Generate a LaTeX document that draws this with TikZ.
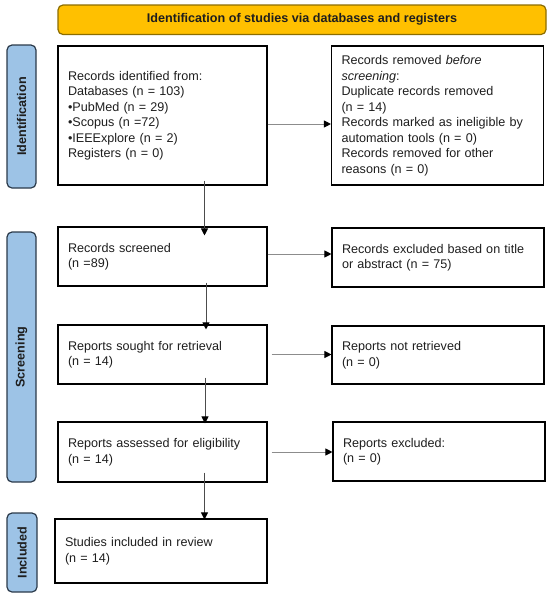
\documentclass[tikz,border=0pt]{standalone}
\usepackage{fontspec}
\setmainfont{Liberation Sans}
\usetikzlibrary{arrows.meta}
\definecolor{titlefill}{HTML}{FFC000}
\definecolor{titledraw}{HTML}{8C6D00}
\definecolor{sidefill}{HTML}{9DC3E6}
\definecolor{sidedraw}{HTML}{2B3A4A}
\definecolor{txt}{HTML}{1E1E1E}
\begin{document}
\begin{tikzpicture}[x=1pt,y=-1pt,
  bodyfont/.style={font=\fontsize{12.6}{15.5}\selectfont},
  box/.style={draw=black, line width=1.1pt, inner xsep=10pt, inner ysep=0pt,
    align=left, text=txt, bodyfont},
  lbox/.style={box, minimum width=209pt, text width=189pt},
  rbox/.style={box, minimum width=212pt, text width=192pt},
  sidebar/.style={draw=sidedraw, fill=sidefill, line width=1.2pt, rounded corners=5pt,
    rotate=90, inner sep=0pt, text=txt, font=\fontsize{12.6}{15}\selectfont\bfseries},
  harr/.style={draw=black!45, line width=1pt, -{Triangle[length=7pt,width=7pt,fill=black,color=black]}},
  varr/.style={draw=black!70, line width=1pt, -{Triangle[length=7pt,width=7pt,fill=black,color=black]}}
]
\useasboundingbox (0,0) rectangle (550,598);

\node[draw=titledraw, fill=titlefill, line width=1.2pt, rounded corners=5pt,
  minimum width=488pt, minimum height=29.5pt, inner sep=0pt, text=txt,
  font=\fontsize{12.6}{15}\selectfont\bfseries] (title) at (302,19.75)
  {Identification of studies via databases and registers};

\node[sidebar, minimum width=143pt, minimum height=29pt] (sid) at (21.5,116.5) {Identification};
\node[sidebar, minimum width=250pt, minimum height=29pt] (sscr) at (21.5,357) {Screening};
\node[sidebar, minimum width=79pt, minimum height=30pt] (sinc) at (22,552.5) {Included};

\node[lbox, minimum height=139pt] (b1) at (162.5,115.5)
  {Records identified from:\\Databases (n = 103)\\•PubMed (n = 29)\\•Scopus (n =72)\\•IEEExplore (n = 2)\\Registers (n = 0)};
\node[rbox, minimum height=139pt] (b2) at (437.5,115.5)
  {Records removed \textit{before}\\\textit{screening}:\\Duplicate records removed\\(n = 14)\\Records marked as ineligible by\\automation tools (n = 0)\\Records removed for other\\reasons (n = 0)};

\node[lbox, minimum height=59pt] (b3) at (162.5,256.5) {Records screened\\(n =89)};
\node[rbox, minimum height=59pt] (b4) at (438,257.5) {Records excluded based on title\\or abstract (n = 75)};

\node[lbox, minimum height=59pt] (b5) at (162.5,354.5) {Reports sought for retrieval\\(n = 14)};
\node[rbox, minimum height=58pt] (b6) at (438,355) {Reports not retrieved\\(n = 0)};

\node[lbox, minimum height=60pt] (b7) at (162.5,452) {Reports assessed for eligibility\\(n = 14)};
\node[rbox, minimum height=59pt] (b8) at (439,451.5) {Reports excluded:\\(n = 0)};

\node[rbox, minimum height=64pt] (b9) at (161,551) {Studies included in review\\(n = 14)};

% horizontal arrows
\draw[harr] ([yshift=-8.5pt]b1.east) -- ([yshift=-8.5pt]b2.west);
\draw[harr] ([yshift=2.5pt]b3.east) -- ([yshift=2.5pt]b3.east -| b4.west);
\draw[harr, shorten <=4pt] (b5.east) -- (b5.east -| b6.west);
\draw[harr, shorten <=4pt] (b7.east) -- (b7.east -| b8.west);

% vertical arrows
\draw[varr] ([xshift=42pt,yshift=5pt]b1.south) -- ([xshift=42pt,yshift=-9pt]b3.north);
\draw[varr] ([xshift=43.5pt,yshift=4pt]b3.south) -- ([xshift=43.5pt,yshift=-5pt]b5.north);
\draw[varr] ([xshift=42.5pt,yshift=7pt]b5.south) -- ([xshift=42.5pt,yshift=-2pt]b7.north);
\draw[varr] ([xshift=42pt,yshift=10pt]b7.south) -- ([xshift=42pt,yshift=-1pt]b9.north -| b7.south);
\end{tikzpicture}
\end{document}
